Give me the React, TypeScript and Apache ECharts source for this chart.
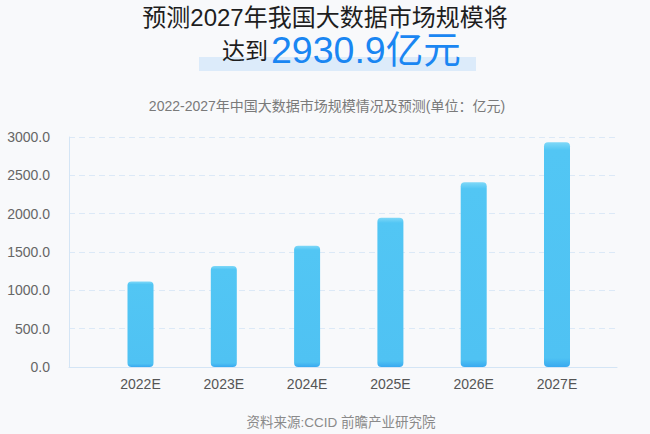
import React, { useEffect, useRef } from "react";
import * as echarts from "echarts";

const years = ["2022E", "2023E", "2024E", "2025E", "2026E", "2027E"];
const marketSize = [1115, 1317, 1582, 1947, 2409, 2930.9];
const yTicks = { min: 0, max: 3000, interval: 500 };

const FONT = '"Liberation Sans", "Noto Sans CJK SC", sans-serif';

export default function App() {
  const ref = useRef<HTMLDivElement>(null);

  useEffect(() => {
    if (!ref.current) return;
    const chart = echarts.init(ref.current, null, { renderer: "svg" });

    const barGradient = new echarts.graphic.LinearGradient(0, 0, 0, 1, [
      { offset: 0, color: "#7fd8f8" },
      { offset: 0.035, color: "#52c6f4" },
      { offset: 0.96, color: "#4fc2f3" },
      { offset: 1, color: "#38a9f0" },
    ]);

    chart.setOption({
      animation: false,
      backgroundColor: "#f8f9fb",
      graphic: [
        {
          type: "text",
          x: 325,
          y: 17,
          style: {
            text: "预测2027年我国大数据市场规模将",
            font: `24px ${FONT}`,
            fill: "#1e1e1e",
            align: "center",
            verticalAlign: "middle",
          },
        },
        {
          type: "rect",
          shape: { x: 199, y: 57, width: 277, height: 14 },
          style: { fill: "#dcebfa" },
        },
        {
          type: "text",
          x: 222,
          y: 51,
          style: {
            text: "达到",
            font: `23px ${FONT}`,
            fill: "#1e1e1e",
            verticalAlign: "middle",
          },
        },
        {
          type: "text",
          x: 271,
          y: 50,
          style: {
            text: "2930.9亿元",
            font: `37.5px ${FONT}`,
            fill: "#1a86f2",
            verticalAlign: "middle",
          },
        },
        {
          type: "text",
          x: 327,
          y: 106,
          style: {
            text: "2022-2027年中国大数据市场规模情况及预测(单位：亿元)",
            font: `14px ${FONT}`,
            fill: "#7a7a7a",
            align: "center",
            verticalAlign: "middle",
          },
        },
        {
          type: "text",
          x: 341,
          y: 422,
          style: {
            text: "资料来源:CCID 前瞻产业研究院",
            font: `13.5px ${FONT}`,
            fill: "#8a8a8a",
            align: "center",
            verticalAlign: "middle",
          },
        },
      ],
      grid: [
        { left: 69, right: 33, top: 137, bottom: 67 },
        { left: 98.85, right: 51.35, top: 137, bottom: 67 },
      ],
      xAxis: [
        {
          gridIndex: 0,
          type: "value",
          min: 0,
          max: 1,
          axisLine: { show: true, lineStyle: { color: "#d4e5f5" } },
          axisTick: { show: false },
          axisLabel: { show: false },
          splitLine: { show: false },
        },
        {
          gridIndex: 1,
          type: "category",
          data: years,
          axisLine: { show: false },
          axisTick: { show: false },
          axisLabel: {
            margin: 10,
            color: "#555",
            fontSize: 14,
            fontFamily: FONT,
          },
        },
      ],
      yAxis: [
        {
          gridIndex: 0,
          type: "value",
          ...yTicks,
          axisLine: { show: true, lineStyle: { color: "#d4e5f5" } },
          axisTick: { show: false },
          axisLabel: {
            margin: 19,
            color: "#666",
            fontSize: 14,
            fontFamily: FONT,
            formatter: (v: number) => v.toFixed(1),
          },
          splitLine: {
            show: true,
            lineStyle: { color: "#dce9f7", type: [6, 4] },
          },
        },
        {
          gridIndex: 1,
          type: "value",
          ...yTicks,
          show: false,
          splitLine: { show: false },
        },
      ],
      series: [
        {
          type: "bar",
          xAxisIndex: 1,
          yAxisIndex: 1,
          data: marketSize,
          barWidth: 26,
          itemStyle: { color: barGradient, borderRadius: 4 },
        },
      ],
    });

    return () => chart.dispose();
  }, []);

  return (
    <div
      ref={ref}
      style={{ position: "absolute", left: 0, top: 0, width: 650, height: 434 }}
    />
  );
}
